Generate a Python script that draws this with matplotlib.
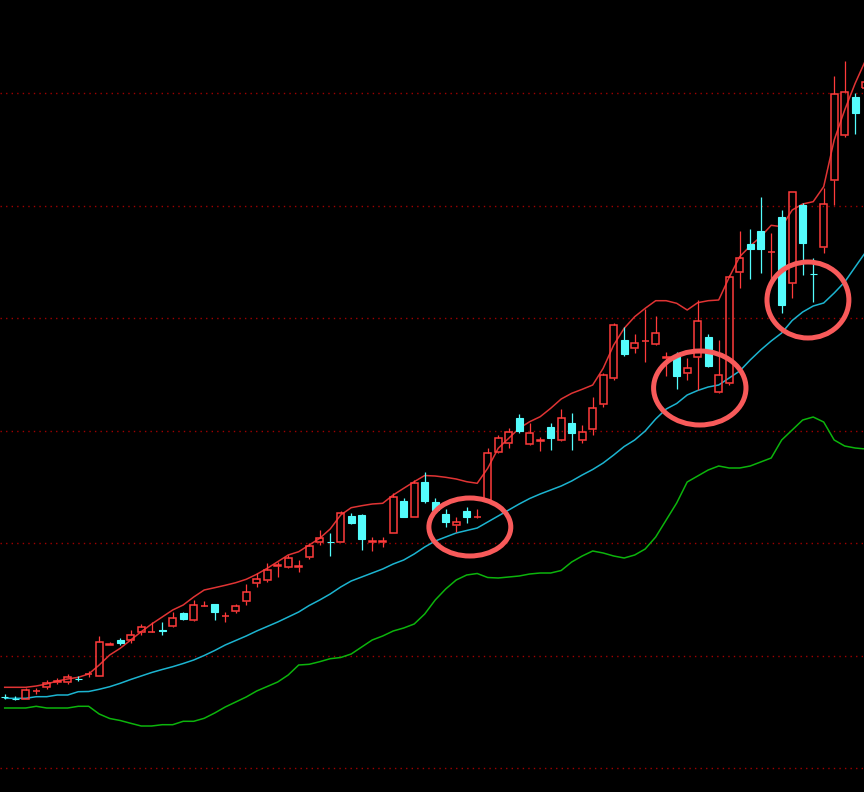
import numpy as np
import matplotlib
matplotlib.use('Agg')
import matplotlib.pyplot as plt
from matplotlib.patches import Rectangle, Ellipse

# daily candles
opens = [1.035, 1.012, 1.01, 1.09, 1.127, 1.185, 1.177, 1.215, 1.26, 1.243,
         1.555, 1.60, 1.60, 1.677, 1.68, 1.697, 1.74, 1.867, 1.80, 1.94,
         1.96, 1.84, 1.89, 1.99, 2.167, 2.20, 2.345, 2.33, 2.335, 2.427,
         2.577, 2.58, 2.583, 2.84, 2.85, 2.585, 2.585, 2.673, 2.993, 2.833,
         3.18, 2.983, 2.86, 2.75, 2.89, 2.83, 3.00, 3.483, 3.573, 3.817,
         3.557, 3.59, 3.727, 3.60, 3.773, 3.60, 3.71, 3.96, 4.223, 4.60,
         4.517, 4.59, 4.56, 4.425, 4.45, 4.267, 4.427, 4.633, 4.083, 4.167,
         5.283, 5.56, 5.693, 5.48, 5.827, 5.167, 5.95, 5.265, 5.527, 6.20,
         6.65, 7.027, 7.117]
highs = [1.057, 1.043, 1.123, 1.12, 1.20, 1.223, 1.26, 1.24, 1.29, 1.643,
         1.583, 1.623, 1.70, 1.757, 1.783, 1.783, 1.883, 1.88, 2.00, 1.99,
         1.965, 1.883, 1.963, 2.157, 2.267, 2.373, 2.383, 2.45, 2.40, 2.567,
         2.70, 2.667, 2.89, 2.873, 2.86, 2.633, 2.633, 3.067, 3.023, 3.20,
         3.283, 3.017, 2.91, 2.833, 2.933, 2.907, 3.517, 3.65, 3.717, 3.86,
         3.767, 3.633, 3.767, 3.91, 3.867, 3.75, 4.033, 4.27, 4.77, 4.733,
         4.66, 4.907, 4.84, 4.483, 4.483, 4.417, 5.00, 4.66, 4.60, 5.25,
         5.693, 5.707, 6.027, 5.667, 5.90, 6.08, 5.97, 5.417, 6.117, 7.24,
         7.39, 7.073, 7.40]
lows = [1.007, 1.0, 1.01, 1.06, 1.11, 1.157, 1.16, 1.187, 1.233, 1.24,
        1.555, 1.55, 1.573, 1.65, 1.68, 1.65, 1.727, 1.80, 1.793, 1.94,
        1.80, 1.783, 1.87, 1.95, 2.133, 2.183, 2.233, 2.32, 2.283, 2.407,
        2.55, 2.443, 2.58, 2.76, 2.50, 2.493, 2.527, 2.67, 2.827, 2.83,
        2.973, 2.893, 2.733, 2.683, 2.767, 2.817, 2.99, 3.47, 3.517, 3.667,
        3.55, 3.493, 3.50, 3.59, 3.50, 3.57, 3.65, 3.933, 4.20, 4.44,
        4.473, 4.383, 4.55, 4.24, 4.107, 4.20, 4.10, 4.33, 4.07, 4.15,
        5.117, 5.207, 5.267, 5.173, 4.873, 5.017, 5.25, 4.983, 5.47, 5.95,
        6.63, 6.66, 7.10]
closes = [1.03, 1.008, 1.10, 1.095, 1.173, 1.19, 1.227, 1.21, 1.265, 1.583,
          1.56, 1.567, 1.653, 1.727, 1.683, 1.69, 1.823, 1.81, 1.95, 1.943,
          1.877, 1.845, 1.943, 2.083, 2.21, 2.30, 2.35, 2.423, 2.34, 2.54,
          2.623, 2.577, 2.873, 2.767, 2.607, 2.59, 2.59, 3.033, 2.833, 3.173,
          2.993, 2.90, 2.783, 2.78, 2.833, 2.833, 3.473, 3.623, 3.68, 3.693,
          3.667, 3.595, 3.623, 3.817, 3.673, 3.683, 3.923, 4.25, 4.75, 4.46,
          4.567, 4.595, 4.673, 4.43, 4.24, 4.323, 4.79, 4.343, 4.25, 5.227,
          5.417, 5.507, 5.507, 5.485, 4.95, 6.077, 5.567, 5.26, 5.96, 7.057,
          7.083, 6.873, 7.183]

# bollinger bands (upper / mid / lower)
upper = [1.127, 1.127, 1.127, 1.14, 1.16, 1.19, 1.21, 1.227, 1.26, 1.35,
         1.45, 1.517, 1.60, 1.683, 1.76, 1.83, 1.90, 1.95, 2.03, 2.10,
         2.123, 2.147, 2.173, 2.207, 2.257, 2.317, 2.383, 2.45, 2.483, 2.55,
         2.617, 2.71, 2.85, 2.923, 2.943, 2.96, 2.967, 3.05, 3.117, 3.183,
         3.245, 3.24, 3.227, 3.21, 3.183, 3.167, 3.317, 3.517, 3.617, 3.717,
         3.783, 3.833, 3.917, 4.01, 4.067, 4.107, 4.15, 4.317, 4.55, 4.717,
         4.833, 4.917, 4.993, 4.993, 4.967, 4.90, 4.973, 4.993, 5.00, 5.227,
         5.433, 5.54, 5.633, 5.747, 5.733, 5.90, 5.96, 5.983, 6.133, 6.60,
         6.90, 7.167, 7.40]
middle = [1.017, 1.017, 1.017, 1.033, 1.033, 1.05, 1.05, 1.083, 1.085, 1.107,
          1.133, 1.167, 1.205, 1.24, 1.275, 1.305, 1.333, 1.365, 1.40, 1.445,
          1.495, 1.55, 1.595, 1.64, 1.69, 1.735, 1.78, 1.83, 1.88, 1.945,
          2.00, 2.06, 2.13, 2.19, 2.23, 2.27, 2.31, 2.36, 2.40, 2.46,
          2.53, 2.59, 2.63, 2.67, 2.695, 2.72, 2.78, 2.84, 2.90, 2.96,
          3.015, 3.06, 3.10, 3.14, 3.19, 3.25, 3.305, 3.37, 3.45, 3.535,
          3.60, 3.69, 3.81, 3.91, 3.965, 4.05, 4.095, 4.13, 4.15, 4.22,
          4.29, 4.40, 4.50, 4.59, 4.67, 4.795, 4.88, 4.94, 4.97, 5.07,
          5.18, 5.33, 5.48]
lower = [0.92, 0.92, 0.92, 0.937, 0.92, 0.92, 0.92, 0.937, 0.937, 0.86,
         0.815, 0.795, 0.767, 0.74, 0.74, 0.753, 0.753, 0.787, 0.787, 0.817,
         0.87, 0.93, 0.98, 1.03, 1.09, 1.135, 1.18, 1.25, 1.35, 1.357,
         1.383, 1.413, 1.425, 1.46, 1.53, 1.60, 1.64, 1.69, 1.72, 1.76,
         1.86, 2.00, 2.11, 2.20, 2.25, 2.265, 2.225, 2.22, 2.23, 2.24,
         2.26, 2.27, 2.27, 2.295, 2.38, 2.44, 2.49, 2.47, 2.44, 2.42,
         2.45, 2.51, 2.63, 2.80, 2.97, 3.18, 3.24, 3.30, 3.34, 3.32,
         3.32, 3.34, 3.38, 3.42, 3.60, 3.70, 3.80, 3.83, 3.78, 3.60,
         3.54, 3.52, 3.51]

grid_levels = [0.32, 1.445, 2.57, 3.695, 4.82, 5.945, 7.07]

# circled spots: (candle index, price, width in candles, height in price)
highlights = [(44.3, 2.73, 7.8, 0.58), (66.2, 4.12, 8.8, 0.74), (76.5, 5.0, 7.8, 0.76)]

up_col = '#ff3b3b'
down_col = '#54fcfc'
w = 0.66

fig = plt.figure(figsize=(8.64, 7.92), dpi=100, facecolor='black')
ax = fig.add_axes([0, 0, 1, 1])
ax.set_facecolor('black')

for g in grid_levels:
    ax.axhline(g, color='#a00000', lw=1.0, ls=(0, (1, 3)), zorder=0)

x = np.arange(len(closes))
ax.plot(x, upper, color='#e03434', lw=1.1, zorder=2)
ax.plot(x, middle, color='#1cb4d0', lw=1.1, zorder=2)
ax.plot(x, lower, color='#0cb40c', lw=1.1, zorder=2)

for i in range(len(closes)):
    o, h, l, c = opens[i], highs[i], lows[i], closes[i]
    top, bot = max(o, c), min(o, c)
    if c >= o:
        ax.vlines(i, top, h, color=up_col, lw=0.9, zorder=3)
        ax.vlines(i, l, bot, color=up_col, lw=0.9, zorder=3)
        ax.add_patch(Rectangle((i - w / 2, bot), w, top - bot, facecolor='none',
                               edgecolor=up_col, lw=1.1, zorder=3))
    else:
        ax.vlines(i, l, h, color=down_col, lw=0.9, zorder=3)
        ax.add_patch(Rectangle((i - w / 2, bot), w, top - bot, facecolor=down_col,
                               edgecolor=down_col, lw=0.8, zorder=4))

for cx, cy, ew, eh in highlights:
    ax.add_patch(Ellipse((cx, cy), ew, eh, facecolor='none', edgecolor='#f85a5a',
                         lw=3.6, zorder=5))

ax.set_xlim(-0.448, 81.84)
ax.set_ylim(0.08, 8.0)
ax.axis('off')

fig.savefig('out.png', dpi=100, facecolor='black')
